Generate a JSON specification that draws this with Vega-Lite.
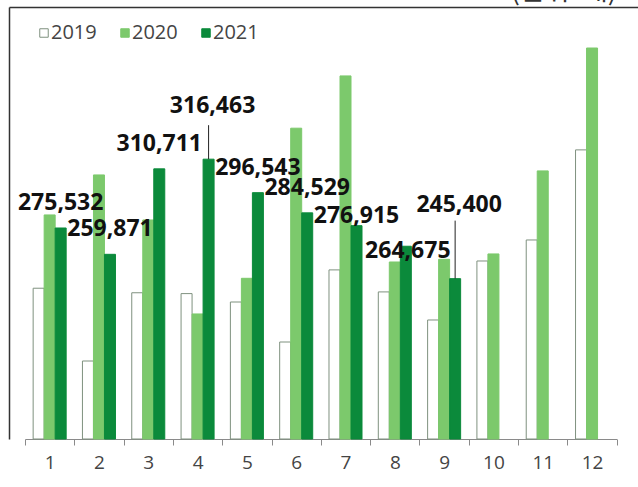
{
  "$schema": "https://vega.github.io/schema/vega-lite/v6.json",
  "autosize": {"type": "none"},
  "padding": {"left": 9, "top": 7, "right": 0, "bottom": 48},
  "width": 629,
  "height": 432,
  "title": {"text": "(단위: 대)", "anchor": "end", "orient": "top", "font": "Noto Sans CJK KR", "fontSize": 27, "fontWeight": "normal", "color": "#333333", "offset": 1, "dx": -21},
  "data": {"values": [
    {"month": 1, "year": "2019", "value": 239700},
    {"month": 2, "year": "2019", "value": 196400},
    {"month": 3, "year": "2019", "value": 237000},
    {"month": 4, "year": "2019", "value": 236500},
    {"month": 5, "year": "2019", "value": 231500},
    {"month": 6, "year": "2019", "value": 207700},
    {"month": 7, "year": "2019", "value": 250600},
    {"month": 8, "year": "2019", "value": 237500},
    {"month": 9, "year": "2019", "value": 220800},
    {"month": 10, "year": "2019", "value": 255900},
    {"month": 11, "year": "2019", "value": 268400},
    {"month": 12, "year": "2019", "value": 322000},
    {"month": 1, "year": "2020", "value": 283300},
    {"month": 2, "year": "2020", "value": 307100},
    {"month": 3, "year": "2020", "value": 280300},
    {"month": 4, "year": "2020", "value": 224400},
    {"month": 5, "year": "2020", "value": 245600},
    {"month": 6, "year": "2020", "value": 334900},
    {"month": 7, "year": "2020", "value": 366000},
    {"month": 8, "year": "2020", "value": 255300},
    {"month": 9, "year": "2020", "value": 256900},
    {"month": 10, "year": "2020", "value": 260100},
    {"month": 11, "year": "2020", "value": 309500},
    {"month": 12, "year": "2020", "value": 382600},
    {"month": 1, "year": "2021", "value": 275532},
    {"month": 2, "year": "2021", "value": 259871},
    {"month": 3, "year": "2021", "value": 310711},
    {"month": 4, "year": "2021", "value": 316463},
    {"month": 5, "year": "2021", "value": 296543},
    {"month": 6, "year": "2021", "value": 284529},
    {"month": 7, "year": "2021", "value": 276915},
    {"month": 8, "year": "2021", "value": 264675},
    {"month": 9, "year": "2021", "value": 245400}
  ]},
  "layer": [
    {
      "encoding": {
        "x": {"field": "month", "type": "ordinal", "scale": {"range": [16, 607.7], "paddingInner": 0, "paddingOuter": 0},
              "axis": {"orient": "bottom", "title": null, "labelAngle": 0, "tickBand": "extent", "domainColor": "#8a8a8a", "tickColor": "#8a8a8a", "tickSize": 6, "labelFontSize": 19, "labelColor": "#444444", "labelPadding": 8, "grid": false}},
        "xOffset": {"field": "year", "type": "nominal", "scale": {"paddingInner": 0, "paddingOuter": 0.74}},
        "y": {"field": "value", "type": "quantitative", "scale": {"domain": [150000, 407000], "zero": false, "nice": false},
              "axis": {"orient": "left", "title": null, "ticks": false, "labels": false, "grid": false, "domainColor": "#333333", "domainWidth": 1.5}}
      },
      "layer": [
        {
          "mark": {"type": "bar", "strokeWidth": 1},
          "encoding": {
            "y2": {"datum": 150000},
            "fill": {"field": "year", "type": "nominal", "scale": {"domain": ["2019", "2020", "2021"], "range": ["#ffffff", "#7cc96c", "#0b8a3b"]},
                     "legend": {"orient": "none", "legendX": 25, "legendY": 16, "direction": "horizontal", "title": null, "symbolType": "square", "symbolSize": 72, "symbolStrokeWidth": 1, "labelFontSize": 20, "labelColor": "#444444", "columnPadding": 18, "labelOffset": -3}},
            "stroke": {"field": "year", "type": "nominal", "scale": {"domain": ["2019", "2020", "2021"], "range": ["#7f917f", "#7cc96c", "#0b8a3b"]},
                     "legend": {"orient": "none", "legendX": 25, "legendY": 16, "direction": "horizontal", "title": null, "symbolType": "square", "symbolSize": 72, "symbolStrokeWidth": 1, "labelFontSize": 20, "labelColor": "#444444", "columnPadding": 18, "labelOffset": -3}}
          }
        },
        {
          "transform": [{"filter": "datum.year == '2021' && (datum.month == 1 || datum.month == 2 || datum.month == 3 || datum.month == 5 || datum.month == 6)"}],
          "mark": {"type": "text", "font": "Open Sans", "fontWeight": "bold", "fontSize": 23, "color": "#111111", "baseline": "middle", "dy": -25},
          "encoding": {"text": {"field": "value", "type": "quantitative", "format": ",d"}}
        },
        {
          "transform": [{"filter": "datum.year == '2021' && datum.month == 7"}],
          "mark": {"type": "text", "font": "Open Sans", "fontWeight": "bold", "fontSize": 23, "color": "#111111", "baseline": "middle", "dy": -10},
          "encoding": {"text": {"field": "value", "type": "quantitative", "format": ",d"}}
        },
        {
          "transform": [{"filter": "datum.year == '2021' && datum.month == 8"}],
          "mark": {"type": "text", "font": "Open Sans", "fontWeight": "bold", "fontSize": 23, "color": "#111111", "baseline": "middle", "dy": 5, "dx": 2},
          "encoding": {"text": {"field": "value", "type": "quantitative", "format": ",d"}}
        },
        {
          "transform": [{"filter": "datum.year == '2021' && datum.month == 4"}],
          "mark": {"type": "text", "font": "Open Sans", "fontWeight": "bold", "fontSize": 23, "color": "#111111", "baseline": "middle", "dy": -53, "dx": 4},
          "encoding": {"text": {"field": "value", "type": "quantitative", "format": ",d"}}
        },
        {
          "transform": [{"filter": "datum.year == '2021' && datum.month == 9"}],
          "mark": {"type": "text", "font": "Open Sans", "fontWeight": "bold", "fontSize": 23, "color": "#111111", "baseline": "middle", "dy": -74, "dx": 4},
          "encoding": {"text": {"field": "value", "type": "quantitative", "format": ",d"}}
        },
        {
          "transform": [{"filter": "datum.year == '2021' && datum.month == 4"}],
          "mark": {"type": "rule", "color": "#222222", "strokeWidth": 1, "y2Offset": -34},
          "encoding": {"y2": {"field": "value"}}
        },
        {
          "transform": [{"filter": "datum.year == '2021' && datum.month == 9"}],
          "mark": {"type": "rule", "color": "#222222", "strokeWidth": 1, "y2Offset": -58},
          "encoding": {"y2": {"field": "value"}}
        }
      ]
    },
    {
      "mark": {"type": "text", "opacity": 0},
      "encoding": {
        "x": {"field": "month", "type": "ordinal", "axis": {"orient": "top", "title": null, "ticks": false, "labels": false, "grid": false, "domainColor": "#333333", "domainWidth": 1.5}},
        "text": {"value": ""}
      }
    }
  ],
  "resolve": {"scale": {"x": "independent"}, "axis": {"x": "independent"}},
  "config": {"view": {"stroke": null}, "font": "Open Sans", "axis": {"grid": false}}
}
